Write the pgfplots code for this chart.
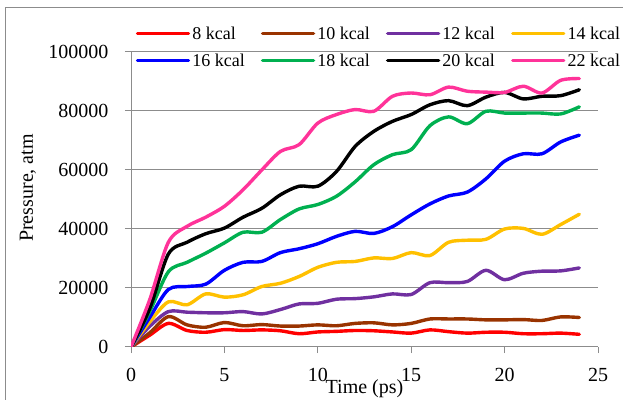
\documentclass[border=0pt]{standalone}
\usepackage{fontspec}
\setmainfont{Liberation Serif}
\usepackage{pgfplots}
\usepackage{pgfplotstable}
\pgfplotsset{compat=1.18}
\definecolor{c8}{RGB}{255,0,0}
\definecolor{c10}{RGB}{153,51,0}
\definecolor{c12}{RGB}{112,48,160}
\definecolor{c14}{RGB}{255,192,0}
\definecolor{c16}{RGB}{0,0,255}
\definecolor{c18}{RGB}{0,176,80}
\definecolor{c20}{RGB}{0,0,0}
\definecolor{c22}{RGB}{255,51,153}
\definecolor{gridc}{RGB}{140,140,140}
\pgfplotstableread{
x  s8   s10   s12   s14   s16   s18   s20   s22
0  0    0     0     0     0     0     0     0
1  4000 4800  7000  8500  10000 12000 13000 16000
2  8000 10300 12000 15300 19500 25500 31500 35500
3  5600 7500  11800 14300 20500 28700 35500 40900
4  5000 6700  11600 18000 21300 31800 38400 44000
5  5900 8300  11600 16900 26000 35300 40300 47700
6  5600 7200  12000 17700 28700 38900 44000 53300
7  5800 7600  11200 20500 29000 38900 47000 60000
8  5500 7100  12700 21600 32000 43200 51600 66300
9  4500 7100  14600 23900 33300 46800 54500 68600
10 5100 7500  14800 27000 35000 48300 54500 75900
11 5300 7200  16200 28700 37500 51100 59500 78800
12 5600 8000  16400 29000 39200 56000 68000 80500
13 5500 8200  17000 30200 38500 61800 73100 79900
14 5100 7500  18000 30000 40800 65200 76500 85000
15 4700 8000  17800 32000 44800 66900 78800 86100
16 5800 9500  21800 31000 48500 75000 82100 85500
17 5200 9500  21800 35500 51200 78000 83500 88100
18 4700 9500  22200 36200 52500 75700 81800 86700
19 5000 9200  26000 36500 57000 79900 84700 86400
20 5000 9200  22800 40000 63000 79300 86300 86300
21 4500 9300  25000 40200 65500 79300 84100 88400
22 4500 9000  25700 38200 65500 79300 85000 86100
23 4700 10200 25800 41500 69500 79000 85200 90400
24 4300 10000 26800 45000 71800 81400 87200 91000
}\datatab
\begin{document}
\begin{tikzpicture}
\useasboundingbox (0,0) rectangle (623bp,400bp);
\draw[gridc, line width=1bp] (5.5bp,0bp) -- (5.5bp,392.5bp) -- (623bp,392.5bp);
\begin{axis}[
  at={(131bp,53bp)}, anchor=south west,
  scale only axis, width=467bp, height=295bp,
  xmin=0, xmax=25, ymin=0, ymax=100000,
  xtick={0,5,...,25}, ytick={0,20000,...,100000},
  scaled y ticks=false,
  /pgf/number format/fixed,
  /pgf/number format/1000 sep={},
  /pgf/number format/assume math mode=true,
  axis x line*=bottom, axis y line*=left,
  axis line style={gridc, line width=1bp},
  tick align=outside, major tick length=6bp,
  tick style={gridc, line width=1bp},
  ymajorgrids, grid style={gridc, line width=1bp},
  tick label style={font=\fontsize{20bp}{24bp}\selectfont},
  xticklabel style={yshift=-12bp},
  yticklabel style={xshift=-13bp},
  every axis x label/.style={at={(axis description cs:0.5,-0.1593)}, anchor=base, font=\fontsize{20bp}{24bp}\selectfont},
  every axis y label/.style={at={(axis description cs:-0.2099,0.539)}, anchor=base, rotate=90, font=\fontsize{20bp}{24bp}\selectfont},
  xlabel={Time (ps)}, ylabel={Pressure, atm},
  legend columns=4,
  legend style={draw=none, fill=none, inner sep=0pt,
    font=\fontsize{18bp}{20bp}\selectfont,
    at={(axis description cs:0,1)}, anchor=north west, xshift=4.6bp, yshift=27.2bp,
    row sep=10bp,
    nodes={inner sep=2bp, text height=13bp, text depth=0bp, anchor=west},
    cells={anchor=west},
    /tikz/every odd column/.append style={column sep=0.1bp},
    /tikz/every even column/.append style={column sep=14.1bp}},
  legend image code/.code={\draw[#1, line cap=round] (0bp,0bp) -- (51bp,0bp);},
  every axis plot/.append style={line width=3.4bp, smooth, tension=0.5, line cap=round, line join=round},
]
\addplot[c8] table[x=x,y=s8] {\datatab};
\addplot[c10] table[x=x,y=s10] {\datatab};
\addplot[c12] table[x=x,y=s12] {\datatab};
\addplot[c14] table[x=x,y=s14] {\datatab};
\addplot[c16] table[x=x,y=s16] {\datatab};
\addplot[c18] table[x=x,y=s18] {\datatab};
\addplot[c20] table[x=x,y=s20] {\datatab};
\addplot[c22] table[x=x,y=s22] {\datatab};
\legend{8 kcal,10 kcal,12 kcal,14 kcal,16 kcal,18 kcal,20 kcal,22 kcal}
\end{axis}
\end{tikzpicture}
\end{document}
